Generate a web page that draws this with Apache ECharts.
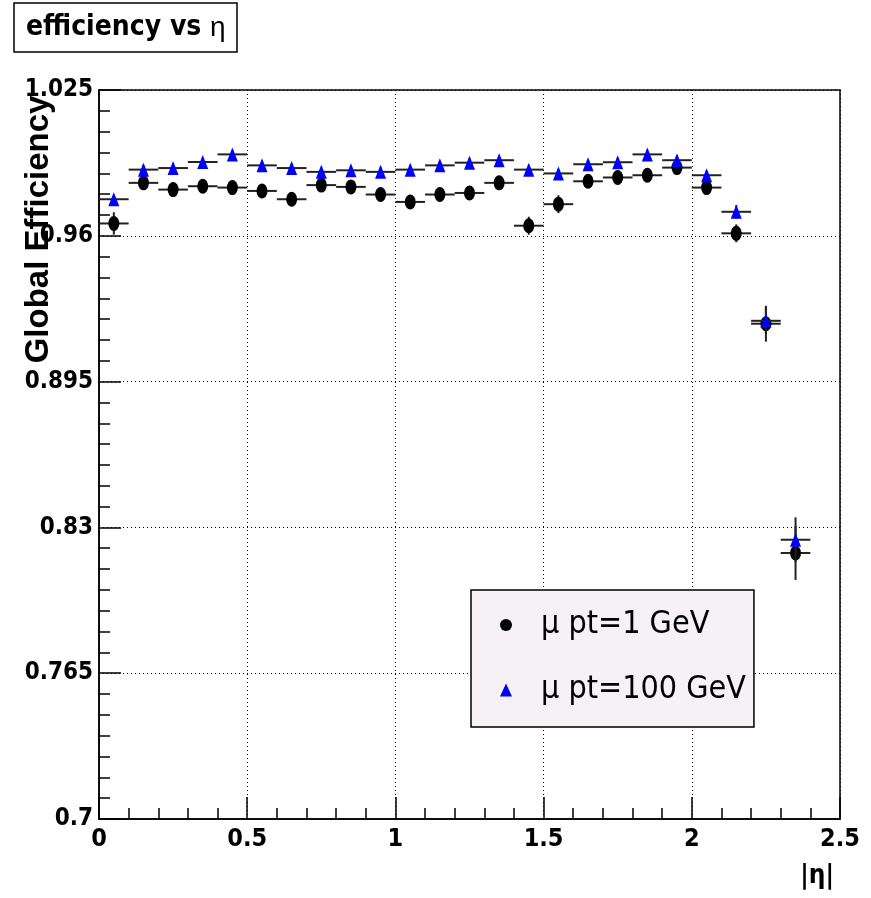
<!DOCTYPE html>
<html style="height: 100%">
<head>
<meta charset="utf-8">
<title>efficiency vs eta</title>
<script src="https://cdn.jsdelivr.net/npm/echarts@6/dist/echarts.min.js"></script>
</head>
<body style="height: 100%; margin: 0; background: #fff">
<div id="container" style="width: 871px; height: 898px"></div>
<script type="text/javascript">
// |eta| bin centres and half width
var etaBins = [0.05, 0.15, 0.25, 0.35, 0.45, 0.55, 0.65, 0.75, 0.85, 0.95, 1.05, 1.15,
               1.25, 1.35, 1.45, 1.55, 1.65, 1.75, 1.85, 1.95, 2.05, 2.15, 2.25, 2.35];
var binHalf = 0.05;

// mu pt = 1 GeV
var eff1 = [0.9655, 0.9836, 0.9806, 0.9821, 0.9815, 0.9800, 0.9763, 0.9826, 0.9818, 0.9784, 0.9751, 0.9784,
            0.9791, 0.9836, 0.9645, 0.9741, 0.9843, 0.9860, 0.9870, 0.9904, 0.9815, 0.9611, 0.9208, 0.8186];
var err1 = [0.005, 0.003, 0.003, 0.003, 0.003, 0.003, 0.003, 0.003, 0.003, 0.003, 0.003, 0.003,
            0.003, 0.003, 0.004, 0.004, 0.003, 0.003, 0.003, 0.003, 0.003, 0.004, 0.008, 0.012];

// mu pt = 100 GeV
var eff100 = [0.9763, 0.9895, 0.9902, 0.9929, 0.9963, 0.9914, 0.9902, 0.9885, 0.9892, 0.9885, 0.9895, 0.9914,
              0.9926, 0.9937, 0.9895, 0.9878, 0.9919, 0.9928, 0.9963, 0.9937, 0.9870, 0.9707, 0.9221, 0.8245];
var err100 = [0.002, 0.002, 0.002, 0.002, 0.002, 0.002, 0.002, 0.002, 0.002, 0.002, 0.002, 0.002,
              0.002, 0.002, 0.002, 0.002, 0.002, 0.002, 0.002, 0.002, 0.002, 0.003, 0.006, 0.010];

var names = ['\u03bc pt=1 GeV', '\u03bc pt=100 GeV'];

// y axis runs 0.7 .. 1.025 in steps of 0.065; values are plotted relative to 0.7
var yBase = 0.7;
var yStep = 0.065;
var yMax = 1.025;

var narrow = '"Liberation Sans Narrow", "DejaVu Sans Condensed", "Liberation Sans", Arial, sans-serif';

function points(eff) {
    return etaBins.map(function (x, i) { return [x, eff[i] - yBase]; });
}
function bars(eff, err) {
    return etaBins.map(function (x, i) { return [x, eff[i] - yBase, binHalf, err[i]]; });
}

function renderBar(params, api) {
    var x = api.value(0), y = api.value(1), ex = api.value(2), ey = api.value(3);
    var l = api.coord([x - ex, y]), r = api.coord([x + ex, y]);
    var b = api.coord([x, y - ey]), t = api.coord([x, y + ey]);
    var st = { stroke: '#222', lineWidth: 2 };
    return {
        type: 'group',
        children: [
            { type: 'line', shape: { x1: l[0], y1: l[1], x2: r[0], y2: r[1] }, style: st },
            { type: 'line', shape: { x1: b[0], y1: b[1], x2: t[0], y2: t[1] }, style: st }
        ]
    };
}

var myChart = echarts.init(document.getElementById('container'));

var option = {
    backgroundColor: '#fff',
    animation: false,
    title: {
        text: '{b|efficiency vs }{g|\u03b7}',
        left: 14,
        top: 3,
        padding: [11, 12, 10, 12],
        borderColor: '#000',
        borderWidth: 1.5,
        textStyle: {
            rich: {
                b: { fontFamily: narrow, fontWeight: 'bold', fontSize: 28, color: '#000' },
                g: { fontFamily: '"Liberation Sans", sans-serif', fontWeight: 'normal', fontSize: 28, color: '#000' }
            }
        }
    },
    legend: {
        orient: 'vertical',
        left: 471,
        top: 590,
        padding: [15, 8, 17, 29],
        itemGap: 25,
        itemWidth: 12,
        itemHeight: 13,
        backgroundColor: '#f5f1f5',
        borderColor: '#000',
        borderWidth: 1.5,
        borderRadius: 0,
        data: [
            { name: names[0], icon: 'circle' },
            { name: names[1], icon: 'triangle' }
        ],
        textStyle: {
            fontFamily: narrow,
            fontSize: 32,
            color: '#000',
            lineHeight: 40,
            padding: [0, 0, 0, 24]
        }
    },
    grid: {
        left: 99,
        right: 31,
        top: 90,
        bottom: 79,
        outerBoundsMode: 'none',
        containLabel: false,
        show: true,
        borderColor: '#000',
        borderWidth: 1.5,
        backgroundColor: '#fff'
    },
    xAxis: {
        type: 'value',
        min: 0,
        max: 2.5,
        interval: 0.5,
        name: '|\u03b7|',
        nameLocation: 'end',
        nameGap: 0,
        nameMoveOverlap: false,
        nameTextStyle: {
            fontFamily: narrow,
            fontWeight: 'bold',
            fontSize: 26,
            color: '#000',
            align: 'right',
            verticalAlign: 'top',
            padding: [44, 6, 0, 0]
        },
        axisLine: { show: true, lineStyle: { color: '#000', width: 1.5 } },
        axisTick: { show: true, inside: true, length: 22, lineStyle: { color: '#000', width: 1.5 } },
        minorTick: { show: true, splitNumber: 5, length: 11, lineStyle: { color: '#000', width: 1.5 } },
        axisLabel: {
            margin: 8,
            fontFamily: narrow,
            fontWeight: 'bold',
            fontSize: 25,
            color: '#000',
            showMinLabel: true,
            showMaxLabel: true
        },
        splitLine: { show: true, lineStyle: { color: '#000', width: 1, type: [1, 3] } }
    },
    yAxis: {
        type: 'value',
        min: 0,
        max: yMax - yBase,
        interval: yStep,
        name: 'Global Efficiency',
        nameLocation: 'middle',
        nameRotate: 90,
        nameGap: 60,
        nameMoveOverlap: false,
        nameTextStyle: {
            fontFamily: '"Liberation Sans", Arial, sans-serif',
            fontWeight: 'bold',
            fontSize: 33,
            color: '#000',
            align: 'center',
            verticalAlign: 'middle',
            padding: [0, 0, 0, 450]
        },
        axisLine: { show: true, lineStyle: { color: '#000', width: 1.5 } },
        axisTick: { show: true, inside: true, length: 22, lineStyle: { color: '#000', width: 1.5 } },
        minorTick: { show: true, splitNumber: 7, length: 11, lineStyle: { color: '#000', width: 1.5 } },
        axisLabel: {
            margin: 6,
            fontFamily: narrow,
            fontWeight: 'bold',
            fontSize: 24,
            color: '#000',
            showMinLabel: true,
            showMaxLabel: true,
            formatter: function (v) { return String(+(v + yBase).toFixed(3)); }
        },
        splitLine: { show: true, lineStyle: { color: '#000', width: 1, type: [1, 3] } }
    },
    series: [
        {
            name: 'bars1',
            type: 'custom',
            renderItem: renderBar,
            data: bars(eff1, err1),
            z: 2,
            silent: true
        },
        {
            name: names[0],
            type: 'scatter',
            symbol: 'circle',
            symbolSize: [11, 15],
            itemStyle: { color: '#000', opacity: 1 },
            data: points(eff1),
            z: 3
        },
        {
            name: 'bars100',
            type: 'custom',
            renderItem: renderBar,
            data: bars(eff100, err100),
            z: 4,
            silent: true
        },
        {
            name: names[1],
            type: 'scatter',
            symbol: 'triangle',
            symbolSize: [11, 14],
            itemStyle: { color: '#0000ff', opacity: 1 },
            data: points(eff100),
            z: 5
        }
    ]
};

myChart.setOption(option);
</script>
</body>
</html>
